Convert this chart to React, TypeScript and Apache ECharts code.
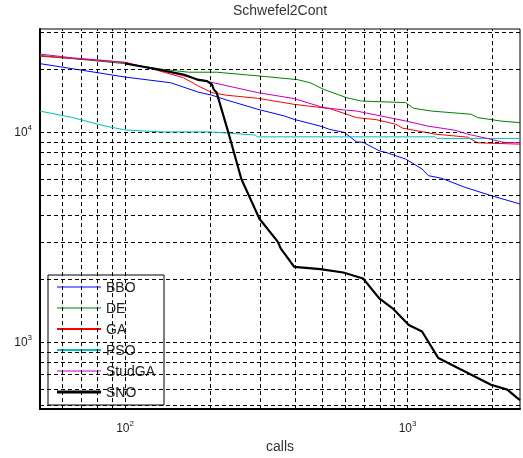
import React, { useEffect, useRef } from 'react';
import * as echarts from 'echarts';

const chartTitle = 'Schwefel2Cont';
const xAxisName = 'calls';
const seriesNames = ['BBO', 'DE', 'GA', 'PSO', 'StudGA', 'SNO'];

const bboData = [[50, 21200], [80, 19200], [100, 18300], [145, 17200], [182, 15500], [203, 15000], [226, 14300], [295, 12850], [366, 11950], [397, 11500], [490, 10700], [531, 10300], [597, 9970], [659, 9000], [696, 8940], [794, 8150], [838, 8010], [984, 7450], [1125, 6680], [1184, 6210], [1321, 6030], [1593, 5470], [1973, 4990], [2500, 4550]];
const deData = [[50, 23200], [100, 21200], [137, 19900], [168, 19300], [211, 19300], [288, 18600], [407, 17800], [452, 17200], [504, 16000], [608, 14600], [686, 14070], [984, 13830], [1050, 13000], [1219, 12600], [1681, 12170], [1768, 11740], [2138, 11300], [2500, 11100]];
const gaData = [[50, 22990], [100, 21540], [127, 19880], [161, 18170], [182, 16570], [203, 15430], [228, 15000], [295, 14500], [397, 13570], [531, 12950], [659, 11740], [774, 11470], [908, 10910], [960, 10450], [1252, 9784], [1632, 9470], [1768, 8900], [2500, 8770]];
const psoData = [[50, 12600], [65, 11750], [85, 10700], [100, 10250], [134, 10030], [200, 10030], [288, 9700], [295, 9500], [1252, 9500], [1269, 9340], [2500, 9340]];
const studGaData = [[50, 23550], [65, 22600], [85, 21940], [100, 21390], [145, 19190], [205, 17200], [295, 15430], [397, 14450], [504, 13090], [608, 12720], [659, 12610], [984, 11310], [1184, 10680], [1470, 10220], [1632, 9784], [1915, 9335], [2196, 8937], [2500, 8900]];
const snoData = [[100, 21230], [127, 20040], [161, 18830], [180, 17800], [195, 17500], [203, 16880], [206, 15990], [211, 15430], [232, 9984], [258, 5988], [299, 3870], [347, 3011], [356, 2790], [397, 2285], [491, 2226], [592, 2147], [696, 2011], [794, 1616], [885, 1449], [1010, 1208], [1125, 1124], [1285, 840], [1431, 781], [1681, 700], [1973, 627], [2254, 594], [2442, 543], [2500, 530]];

const xGridValues = [60, 70, 80, 90, 100, 200, 300, 400, 500, 600, 700, 800, 900, 1000, 2000];
const yGridValues = [500, 600, 700, 800, 900, 1000, 2000, 3000, 4000, 5000, 6000, 7000, 8000, 9000, 10000, 20000, 30000];

export default function App() {
  const ref = useRef<HTMLDivElement>(null);
  useEffect(() => {
    const chart = echarts.init(ref.current!, null, { renderer: 'svg' });
    const font = '"Liberation Sans", Arial, sans-serif';
    const textColor = '#222';
    const powLabel = (v: number) => {
      const l = Math.log10(v);
      const e = Math.round(l);
      return Math.abs(l - e) < 1e-6 ? `{b|10}{s|${e}}` : '';
    };
    const rich = {
      b: { fontSize: 12, fontFamily: font, color: textColor },
      s: { fontSize: 8, fontFamily: font, color: textColor, padding: [0, 0, 10, 0] },
    };
    const allData = [bboData, deData, gaData, psoData, studGaData, snoData];
    const colors = ['#0000ff', '#008000', '#ff0000', '#00bfbf', '#bf00bf', '#000000'];
    const widths = [1, 1, 1, 1, 1, 2.2];
    const legendThickness = [1, 1, 2, 2, 1, 3];

    chart.setOption({
      animation: false,
      title: {
        text: chartTitle,
        left: 233,
        top: 0,
        padding: [3, 0, 0, 0],
        textStyle: { fontSize: 14, fontWeight: 'normal', color: '#333', fontFamily: font },
      },
      grid: {
        left: 40, top: 29, width: 486, height: 382,
        show: true, borderColor: '#000', borderWidth: 1, backgroundColor: 'transparent',
      },
      legend: {
        orient: 'vertical', left: 48, top: 275,
        itemWidth: 44, itemHeight: 14, itemGap: 7,
        padding: [5, 9, 6, 9],
        symbolKeepAspect: true,
        backgroundColor: '#fff', borderColor: '#000', borderWidth: 1,
        textStyle: { fontSize: 14, fontFamily: font, color: textColor },
        data: seriesNames.map((n, i) => ({
          name: n,
          icon: `path://M0,0H44V${legendThickness[i]}H0Z`,
          itemStyle: { color: colors[i] },
        })),
      },
      xAxis: {
        type: 'log', logBase: 10, min: 50, max: 2500,
        axisLine: { show: true, onZero: false, lineStyle: { color: '#000', width: 2 } },
        axisTick: { show: false },
        splitLine: { show: false },
        axisLabel: { formatter: powLabel, rich, margin: 10 },
        name: xAxisName, nameLocation: 'middle', nameGap: 28,
        nameTextStyle: { fontSize: 14, fontFamily: font, color: '#333' },
      },
      yAxis: {
        type: 'log', logBase: 10, min: 480, max: 31000,
        axisLine: { show: true, onZero: false, lineStyle: { color: '#000', width: 2 } },
        axisTick: { show: false },
        splitLine: { show: false },
        axisLabel: { formatter: powLabel, rich, margin: 8 },
      },
      series: [
        {
          type: 'line', name: '__grid', data: [], z: 1, silent: true,
          markLine: {
            silent: true, symbol: ['none', 'none'], animation: false,
            label: { show: false },
            emphasis: { disabled: true },
            lineStyle: { color: '#000', type: [4, 3], width: 1 },
            data: [...xGridValues.map((v) => ({ xAxis: v })), ...yGridValues.map((v) => ({ yAxis: v }))],
          },
        },
        ...seriesNames.map((n, i) => ({
          type: 'line', name: n, data: allData[i], z: 2 + i,
          symbol: 'none', showSymbol: false, silent: true,
          color: colors[i],
          itemStyle: { color: colors[i] },
          lineStyle: { color: colors[i], width: widths[i] },
          emphasis: { disabled: true },
        })),
      ],
    });
    return () => chart.dispose();
  }, []);
  return <div ref={ref} style={{ position: 'fixed', left: 0, top: 0, width: 523, height: 458 }} />;
}
